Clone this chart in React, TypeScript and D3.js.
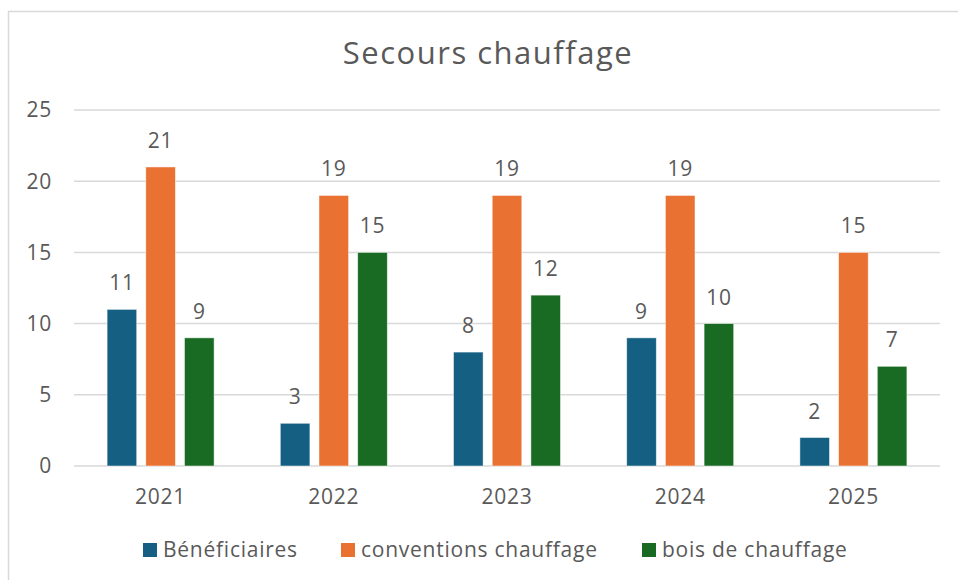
import React from "react";
import * as d3 from "d3";

const years = ["2021", "2022", "2023", "2024", "2025"];
const seriesNames = ["Bénéficiaires", "conventions chauffage", "bois de chauffage"];
const beneficiaires = [11, 3, 8, 9, 2];
const conventions = [21, 19, 19, 19, 15];
const bois = [9, 15, 12, 10, 7];
const yTicks = [0, 5, 10, 15, 20, 25];
const colors = ["#156082", "#E97132", "#196B24"];
const title = "Secours chauffage";

const W = 958;
const H = 580;
const FONT = "'Open Sans', 'Liberation Sans', sans-serif";
const TEXT = "#595959";
const GRID = "#d9d9d9";
const LS = 0.75;

export default function App() {
  const series = [beneficiaires, conventions, bois];
  const x0 = d3.scaleBand<string>().domain(years).range([74, 940]).paddingInner(0).paddingOuter(0);
  const x1 = d3
    .scaleBand<number>()
    .domain([0, 1, 2])
    .range([0, 107])
    .paddingInner(0.235)
    .paddingOuter(0);
  const groupOffset = (x0.bandwidth() - 107) / 2;
  const y = d3.scaleLinear().domain([0, 25]).range([466, 110]);

  const legendX = [143, 341, 642];

  return (
    <div style={{ position: "fixed", left: 0, top: 0 }}>
      <svg width={W} height={H} style={{ display: "block", background: "#fff" }}>
        <rect x={8.5} y={11.5} width={980} height={600} fill="#fff" stroke={GRID} strokeWidth={1.5} />
        <text
          x={488}
          y={64}
          textAnchor="middle"
          fontFamily={FONT}
          fontSize={31}
          letterSpacing={1.5}
          fill={TEXT}
        >
          {title}
        </text>
        {yTicks.map((t) => (
          <g key={t}>
            <line x1={74} x2={940} y1={y(t)} y2={y(t)} stroke={GRID} strokeWidth={1.5} />
            <text
              x={52}
              y={y(t)}
              dy="0.35em"
              textAnchor="end"
              fontFamily={FONT}
              fontSize={21}
              letterSpacing={LS}
              fill={TEXT}
            >
              {t}
            </text>
          </g>
        ))}
        {years.map((yr, i) => (
          <g key={yr}>
            {series.map((vals, s) => {
              const bx = (x0(yr) as number) + groupOffset + (x1(s) as number);
              const bw = x1.bandwidth();
              const v = vals[i];
              return (
                <g key={s}>
                  <rect
                    x={bx}
                    y={y(v)}
                    width={bw}
                    height={y(0) - y(v)}
                    fill={colors[s]}
                    stroke="#ffffff"
                    strokeOpacity={0.6}
                    strokeWidth={0.8}
                  />
                  <text
                    x={bx + bw / 2}
                    y={y(v) - 19}
                    textAnchor="middle"
                    fontFamily={FONT}
                    fontSize={21}
                    letterSpacing={LS}
                    fill={TEXT}
                  >
                    {v}
                  </text>
                </g>
              );
            })}
            <text
              x={(x0(yr) as number) + x0.bandwidth() / 2}
              y={504}
              textAnchor="middle"
              fontFamily={FONT}
              fontSize={21}
              letterSpacing={LS}
              fill={TEXT}
            >
              {yr}
            </text>
          </g>
        ))}
        {seriesNames.map((name, s) => (
          <g key={name}>
            <rect x={legendX[s]} y={543} width={14} height={14} fill={colors[s]} />
            <text
              x={legendX[s] + 20}
              y={557}
              fontFamily={FONT}
              fontSize={21}
              letterSpacing={LS}
              fill={TEXT}
            >
              {name}
            </text>
          </g>
        ))}
      </svg>
    </div>
  );
}
